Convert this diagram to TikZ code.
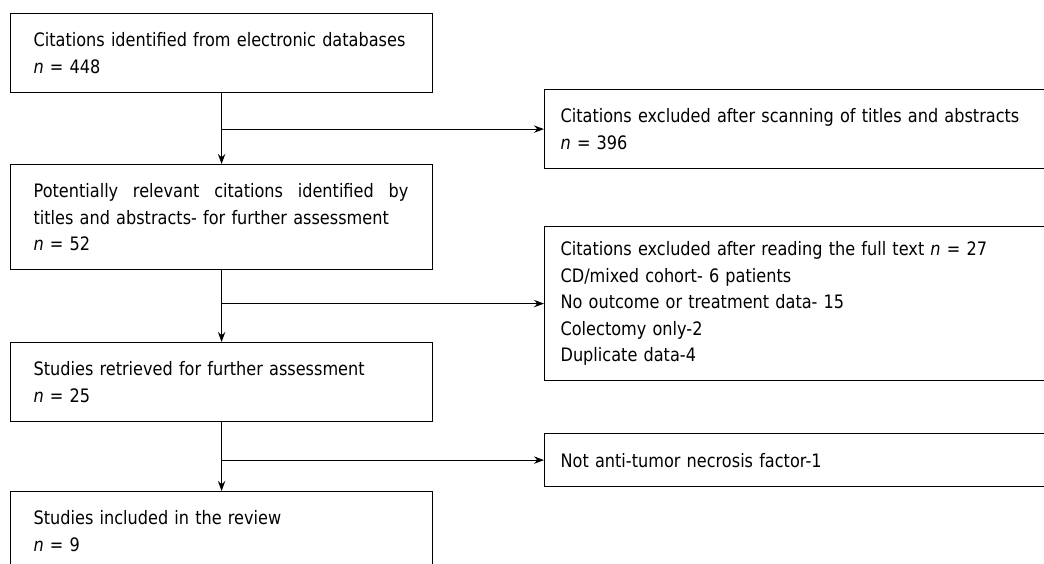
\documentclass[tikz,border=0pt]{standalone}
\usepackage{fontspec}
\setmainfont{DejaVu Sans}[FakeStretch = 0.87]
\usetikzlibrary{arrows.meta}

\begin{document}
\begin{tikzpicture}[x = 0.75pt, y = -0.75pt,
        box/.style = {draw = black!65, line width = 0.9pt, anchor = north west, inner xsep = 17.25pt, inner ysep = 0pt,
            text width = 282pt, align = left, font = {\fontsize{13.9pt}{19.9pt}\selectfont}, black},
        excl/.style = {box, inner xsep = 12pt, text width = 480pt},
        arr/.style = {-{Stealth[length = 7.5pt, width = 5.5pt]}, line width = 0.85pt, black}]
        \useasboundingbox (0, 0) rectangle (1044, 563);
        \clip (0, 0) rectangle (1044, 563);

        \node[box, minimum height = 59.25pt] (b1) at (10, 13) {Citations identified from electronic databases\\ \textit{n} = 448};
        \node[box, minimum height = 78.75pt] (b2) at (10, 164) {\hbox to 281pt{Potentially\hfill relevant\hfill citations\hfill identified\hfill by}\\ titles and abstracts- for further assessment\\ \textit{n} = 52};
        \node[box, minimum height = 59.25pt] (b3) at (10, 342) {Studies retrieved for further assessment\\ \textit{n} = 25};
        \node[box, minimum height = 59.25pt] (b4) at (10, 491) {Studies included in the review\\ \textit{n} = 9};

        \node[excl, minimum height = 59.25pt] (e1) at (544, 89) {Citations excluded after scanning of titles and abstracts\\ \textit{n} = 396};
        \node[excl, minimum height = 115.5pt] (e2) at (544, 226) {Citations excluded after reading the full text \textit{n} = 27\\ CD/mixed cohort- 6 patients\\ No outcome or treatment data- 15\\ Colectomy only-2\\ Duplicate data-4};
        \node[excl, minimum height = 39.75pt] (e3) at (544, 433) {Not anti-tumor necrosis factor-1};

        \draw[arr] (b1.south) -- (b2.north);
        \draw[arr] (b2.south) -- (b3.north);
        \draw[arr] (b3.south) -- (b4.north);
        \draw[arr] (b1.south |- e1.west) -- (e1.west);
        \draw[arr] (b2.south |- e2.west) -- (e2.west);
        \draw[arr] (b3.south |- e3.west) -- (e3.west);
    \end{tikzpicture}
\end{document}
